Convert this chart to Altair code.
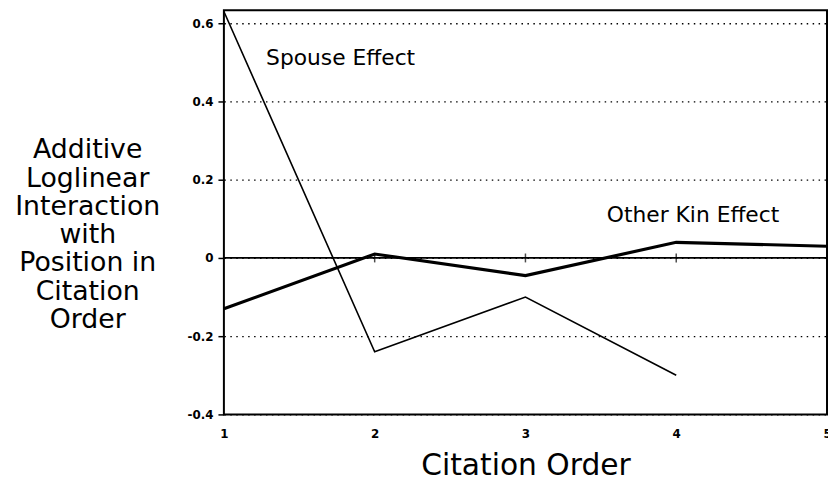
import altair as alt
import pandas as pd

# ---- data ----
order = [1, 2, 3, 4, 5]
spouse_x = [1, 2, 3, 4]
spouse_effect = [0.63, -0.24, -0.10, -0.30]
other_kin_effect = [-0.13, 0.01, -0.045, 0.04, 0.03]
y_ticks = [-0.4, -0.2, 0, 0.2, 0.4, 0.6]
x_ticks = [1, 2, 3, 4, 5]
zero_line = [0]
zero_ticks = [2, 3, 4]
label_text = ["Spouse Effect", "Other Kin Effect"]
label_x = [1.28, 3.54]
label_y = [0.51, 0.109]

y_title = ["Additive", "Loglinear", "Interaction", "with", "Position in", "Citation", "Order"]
x_title = "Citation Order"

FONT = "DejaVu Sans"

spouse_df = pd.DataFrame({"order": spouse_x, "value": spouse_effect})
kin_df = pd.DataFrame({"order": order, "value": other_kin_effect})
labels_df = pd.DataFrame({"order": label_x, "value": label_y, "text": label_text})
zero_df = pd.DataFrame({"value": zero_line})
zt_df = pd.DataFrame({"order": zero_ticks, "value": [zero_line[0]] * len(zero_ticks)})

x_enc = alt.X(
    "order:Q",
    scale=alt.Scale(domain=[1, 5], nice=False, zero=False),
    axis=alt.Axis(
        values=x_ticks, title=x_title, grid=False, ticks=False, domain=False,
        labelFont=FONT, labelFontWeight="bold", labelFontSize=12, labelColor="black",
        labelPadding=14, labelFlush=False,
        titleFont=FONT, titleFontSize=30, titleFontWeight="normal", titleColor="black",
        titleBaseline="middle", titleY=52,
    ),
)
y_enc = alt.Y(
    "value:Q",
    scale=alt.Scale(domain=[-0.4, 0.633], nice=False, zero=False),
    axis=alt.Axis(
        values=y_ticks, title=y_title, grid=True, gridColor="black", gridDash=[1.5, 4.5],
        gridWidth=1.3, gridOpacity=1, domain=False, ticks=True, tickSize=6,
        tickColor="black", tickWidth=1.5,
        labelExpr="datum.value == 0 ? '0' : (datum.value < 0 ? '-' : '') + format(abs(datum.value), '.1f')",
        labelFont=FONT, labelFontWeight="bold", labelFontSize=12, labelColor="black",
        labelPadding=5,
        titleAngle=0, titleAlign="center", titleBaseline="middle",
        titleX=-138, titleY=141, titleLineHeight=28.5, titleFontSize=27,
        titleFont=FONT, titleFontWeight="normal", titleColor="black",
    ),
)

zero_rule = alt.Chart(zero_df).mark_rule(color="black", strokeWidth=1.8).encode(y=y_enc)
zero_tick_marks = alt.Chart(zt_df).mark_tick(
    color="black", orient="vertical", size=9, thickness=1.5
).encode(x=x_enc, y=y_enc)
spouse_line = alt.Chart(spouse_df).mark_line(color="black", strokeWidth=1.6).encode(x=x_enc, y=y_enc)
kin_line = alt.Chart(kin_df).mark_line(color="black", strokeWidth=3.2).encode(x=x_enc, y=y_enc)
texts = alt.Chart(labels_df).mark_text(
    align="left", baseline="middle", font=FONT, fontSize=22, color="black"
).encode(x=x_enc, y=y_enc, text="text:N")

chart = (
    alt.layer(zero_rule, zero_tick_marks, spouse_line, kin_line, texts)
    .properties(
        width=609, height=408,
        autosize=alt.AutoSizeParams(type="none"),
        padding={"left": 218, "top": 0, "right": 1, "bottom": 81},
        background="white",
    )
    .configure_view(stroke="black", strokeWidth=2)
)

chart.save("out.html", embed_options={"renderer": "svg", "actions": False})
